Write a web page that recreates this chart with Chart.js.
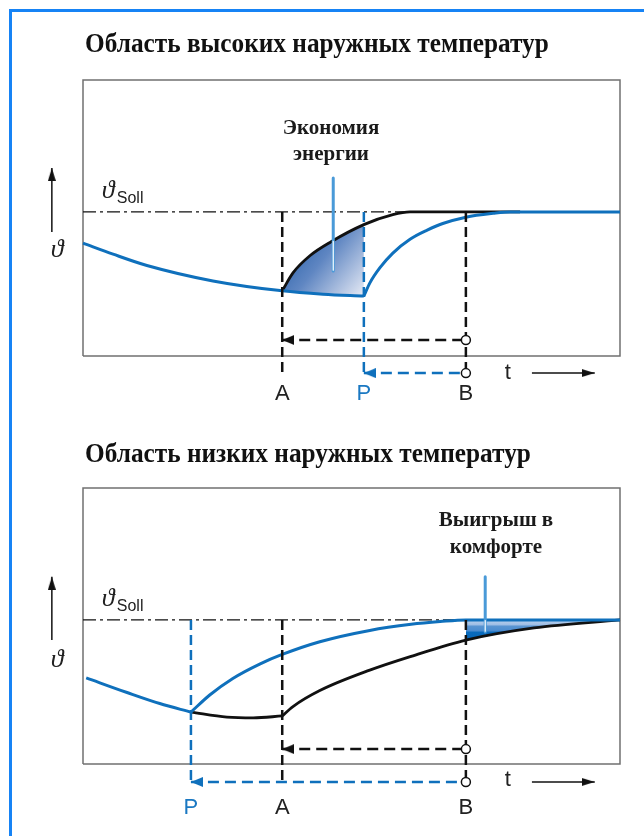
<!DOCTYPE html>
<html lang="ru">
<head>
<meta charset="UTF-8">
<title>Область высоких и низких наружных температур</title>
<script src="https://cdn.jsdelivr.net/npm/chart.js"></script>
<style>
  body { margin: 0; background: #fff; width: 644px; height: 836px; overflow: hidden; position: relative; font-family: "Liberation Serif", serif; }
  #frame { position: absolute; left: 9px; top: 9px; width: 700px; height: 900px; border-left: 3px solid #1683f5; border-top: 3px solid #1683f5; }
  .title { position: absolute; left: 85px; font-weight: bold; font-size: 27px; line-height: 27px; color: #111; white-space: nowrap;
           transform: scaleX(0.937); transform-origin: 0 0; }
  .note { position: absolute; width: 160px; text-align: center; font-weight: bold; font-size: 21px; line-height: 26px; color: #1a1a1a; }
  canvas { position: absolute; left: 0; }
  #hiChart { top: 0; }
  #loChart { top: 408px; }
</style>
</head>
<body>
  <div id="frame"></div>
  <canvas id="hiChart" width="644" height="408"></canvas>
  <canvas id="loChart" width="644" height="428"></canvas>

  <div class="title" style="top:30px">Область высоких наружных температур</div>
  <div class="note" style="left:251px; top:114px">Экономия<br>энергии</div>

  <div class="title" style="top:440px">Область низких наружных температур</div>
  <div class="note" style="left:416px; top:506px; line-height:27px">Выигрыш в<br>комфорте</div>

<script>
// --- data (x: 0..100 across the box, y: 0..100 up the box) ---
const SOLL = 52.2;

// high outside temperatures
const hiMarkNames = ['A', 'P', 'B'];
const hiMarkX = [37.1, 52.3, 71.3];
const hiBlueBeforeX = [0, 5.6, 11.9, 24.2, 37.1, 44.7, 52.3];
const hiBlueBeforeY = [40.9, 36.9, 32.8, 27.2, 23.6, 22.4, 21.7];
const hiBlueAfterX = [52.3, 53.4, 55.3, 57.7, 60.9, 64.1, 67.0, 71.3, 76.4, 79.5, 100];
const hiBlueAfterY = [21.7, 26.4, 32.0, 37.3, 42.3, 45.6, 48.0, 50.3, 51.7, 52.2, 52.2];
const hiBlackX = [37.1, 39.1, 42.3, 46.2, 52.3, 57.7, 60.9, 81.4];
const hiBlackY = [23.6, 30.1, 36.4, 41.4, 47.6, 51.2, 52.2, 52.2];
const hiArrowY = [5.8, -6.2];          // black arrow B->A, blue arrow B->P
const hiPointer = [46.6, 64.5, 30.8, 41.5];  // x, top, bottom, start of white core

// low outside temperatures
const loMarkNames = ['P', 'A', 'B'];
const loMarkX = [20.1, 37.1, 71.3];
const loBlueBeforeX = [0.6, 8.2, 14.3, 20.1];
const loBlueBeforeY = [31.2, 25.9, 21.9, 18.8];
const loBlueAfterX = [20.1, 23.6, 27.9, 33.0, 37.1, 44.1, 53.4, 61.1, 66.5, 71.3, 100];
const loBlueAfterY = [18.8, 25.0, 31.0, 36.3, 39.7, 44.3, 48.4, 50.6, 51.6, 52.2, 52.2];
const loBlackBeforeX = [20.1, 26.8, 31.7, 37.1];
const loBlackBeforeY = [18.8, 17.0, 16.7, 17.4];
const loBlackAfterX = [37.1, 39.1, 44.1, 53.4, 61.1, 71.3, 84.0, 100];
const loBlackAfterY = [17.4, 20.8, 26.6, 34.0, 39.0, 44.9, 49.3, 52.2];
const loArrowY = [5.4, -6.5];
const loPointer = [74.9, 67.8, 47.8, 52.0];

// --- layout ---
const W = 644;
const BOX = { left: 83, right: 620, top: 80, bottom: 356 };
const BLUE = '#0f70bc', BLACK = '#111', GREY = '#707070';

const pts = (xs, ys) => xs.map((x, i) => ({ x, y: ys[i] }));

function arrowHead(color, len, half) {
  // points left, tip in the centre of the image
  const c = document.createElement('canvas');
  c.width = len * 2; c.height = half * 2;
  const g = c.getContext('2d');
  g.fillStyle = color;
  g.beginPath(); g.moveTo(len, half); g.lineTo(len * 2, 0); g.lineTo(len * 2, half * 2); g.closePath(); g.fill();
  return c;
}
const headBlack = arrowHead(BLACK, 12, 5);
const headBlue = arrowHead(BLUE, 12, 5);
const headAxis = arrowHead(BLACK, 13, 4);

function curve(data, color, width, order) {
  return { data, borderColor: color, borderWidth: width, pointRadius: 0, cubicInterpolationMode: 'monotone',
           fill: false, order };
}
function vDash(x, y0, y1, color) {
  return { data: [{ x, y: y0 }, { x, y: y1 }], borderColor: color, borderWidth: 2.5,
           borderDash: [10, 5], pointRadius: 0, fill: false, order: 3 };
}
function hArrow(xTip, xEnd, y, color, head) {
  return { data: [{ x: xTip, y }, { x: xEnd, y }], borderColor: color, borderWidth: 2.5, borderDash: [11, 6],
           pointStyle: [head, 'circle'], pointRadius: [6, 4.5], pointBackgroundColor: [color, '#fff'],
           pointBorderColor: ['rgba(0,0,0,0)', BLACK], pointBorderWidth: [0, 1.5], fill: false, order: 2 };
}
function axisArrow(x0, y0, x1, y1, rot) {
  return { data: [{ x: x0, y: y0 }, { x: x1, y: y1 }], borderColor: BLACK, borderWidth: 1.5,
           pointStyle: ['circle', headAxis], pointRadius: [0, 6], pointRotation: [0, rot], fill: false, order: 2 };
}
function pointer(p) {
  return [
    { data: [{ x: p[0], y: p[1] }, { x: p[0], y: p[2] }], borderColor: '#4a9ad8', borderWidth: 3,
      borderCapStyle: 'round', pointRadius: 0, fill: false, order: 1 },
    { data: [{ x: p[0], y: p[3] }, { x: p[0], y: p[2] + 0.3 }], borderColor: '#fff', borderWidth: 1.2,
      borderCapStyle: 'round', pointRadius: 0, fill: false, order: 0 }
  ];
}
function frameAndSoll() {
  return [
    { data: pts([0, 100, 100, 0, 0], [0, 0, 100, 100, 0]), borderColor: GREY, borderWidth: 1.5,
      tension: 0, pointRadius: 0, fill: false, order: 10 },
    { data: pts([0, 100], [SOLL, SOLL]), borderColor: BLACK, borderWidth: 1.3, borderDash: [13, 4, 3, 4],
      pointRadius: 0, fill: false, order: 9 }
  ];
}

function makeChart(id, h, datasets, text) {
  const ux = (BOX.right - BOX.left) / 100, uy = (BOX.bottom - BOX.top) / 100;
  const labels = {
    id: 'labels',
    afterDatasetsDraw(chart) {
      const { ctx, scales: { x, y } } = chart;
      ctx.save();
      ctx.textAlign = 'center'; ctx.textBaseline = 'middle';
      ctx.font = '22px "Liberation Sans", Arial, sans-serif';
      text.names.forEach((n, i) => {
        ctx.fillStyle = n === 'P' ? '#1a78c2' : '#222';
        ctx.fillText(n, x.getPixelForValue(text.xs[i]), y.getPixelForValue(text.labelY));
      });
      ctx.fillStyle = '#222';
      ctx.fillText('t', x.getPixelForValue(79.1), y.getPixelForValue(text.tY));
      ctx.font = 'italic 26px "Liberation Serif", serif';
      ctx.fillText('ϑ', x.getPixelForValue(-4.8), y.getPixelForValue(text.thetaY));
      ctx.textAlign = 'left'; ctx.textBaseline = 'alphabetic';
      const sx = x.getPixelForValue(3.5), sy = y.getPixelForValue(SOLL + 5.0);
      ctx.fillText('ϑ', sx, sy);
      ctx.font = '16px "Liberation Sans", Arial, sans-serif';
      ctx.fillText('Soll', sx + 15, sy + 5);
      ctx.restore();
    }
  };
  return new Chart(document.getElementById(id), {
    type: 'line',
    data: { datasets },
    options: {
      responsive: false, animation: false, events: [],
      layout: { padding: 0, autoPadding: false },
      scales: {
        x: { type: 'linear', display: false, min: -BOX.left / ux, max: (W - BOX.left) / ux },
        y: { type: 'linear', display: false, min: -(h - BOX.bottom) / uy, max: 100 + BOX.top / uy }
      },
      plugins: { legend: { display: false }, tooltip: { enabled: false } }
    },
    plugins: [labels]
  });
}

// ---------- high temperatures ----------
const hiBlack = pts(hiBlackX, hiBlackY);
const hiSet = frameAndSoll();
const hiBlueBeforeIdx = hiSet.length;
hiSet.push(curve(pts(hiBlueBeforeX, hiBlueBeforeY), BLUE, 3, 6));
hiSet.push(curve(pts(hiBlueAfterX, hiBlueAfterY), BLUE, 3, 6));
hiSet.push(curve(hiBlack, BLACK, 2.8, 7));
hiSet.push({
  data: hiBlack.filter(p => p.x <= hiMarkX[1]), borderWidth: 0, pointRadius: 0, cubicInterpolationMode: 'monotone',
  order: 8, fill: { target: hiBlueBeforeIdx },
  backgroundColor(ctx) {
    const c = ctx.chart;
    if (!c.chartArea) return 'rgba(0,0,0,0)';
    const { x, y } = c.scales;
    const g = c.ctx.createLinearGradient(x.getPixelForValue(hiMarkX[0]), y.getPixelForValue(SOLL - 8),
                                         x.getPixelForValue(hiMarkX[1]), y.getPixelForValue(20));
    g.addColorStop(0, '#1b57a3'); g.addColorStop(0.45, '#5f86c2'); g.addColorStop(1, '#eef0f8');
    return g;
  }
});
hiSet.push(vDash(hiMarkX[0], SOLL, -7.5, BLACK));
hiSet.push(vDash(hiMarkX[1], SOLL, -7.5, BLUE));
hiSet.push(vDash(hiMarkX[2], SOLL, hiArrowY[1], BLACK));
hiSet.push(hArrow(hiMarkX[0], hiMarkX[2], hiArrowY[0], BLACK, headBlack));
hiSet.push(hArrow(hiMarkX[1], hiMarkX[2], hiArrowY[1], BLUE, headBlue));
hiSet.push(axisArrow(-5.8, 44.9, -5.8, 68.1, 90));
hiSet.push(axisArrow(83.6, hiArrowY[1], 95.3, hiArrowY[1], 180));
hiSet.push(...pointer(hiPointer));
makeChart('hiChart', 408, hiSet, { names: hiMarkNames, xs: hiMarkX, labelY: -13.8, tY: -6.2, thetaY: 38.4 });

// ---------- low temperatures ----------
const loBlackAfter = pts(loBlackAfterX, loBlackAfterY);
const loSet = frameAndSoll();
loSet.push(curve(pts(loBlueBeforeX, loBlueBeforeY), BLUE, 3, 5));
loSet.push(curve(pts(loBlueAfterX, loBlueAfterY), BLUE, 3, 5));
loSet.push(curve(pts(loBlackBeforeX, loBlackBeforeY), BLACK, 2.8, 6));
loSet.push(curve(loBlackAfter, BLACK, 2.8, 6));
loSet.push({
  data: loBlackAfter.filter(p => p.x >= loMarkX[2]), borderWidth: 0, pointRadius: 0, cubicInterpolationMode: 'monotone',
  order: 7, fill: { value: SOLL },
  backgroundColor(ctx) {
    const c = ctx.chart;
    if (!c.chartArea) return 'rgba(0,0,0,0)';
    const y = c.scales.y;
    const g = c.ctx.createLinearGradient(0, y.getPixelForValue(SOLL), 0, y.getPixelForValue(loBlackAfterY[5]));
    g.addColorStop(0, '#b9d0ec'); g.addColorStop(0.25, '#9dbde5'); g.addColorStop(0.3, '#5a95d2');
    g.addColorStop(0.55, '#4a8bcf'); g.addColorStop(0.6, '#0a6bbd'); g.addColorStop(1, '#0666b8');
    return g;
  }
});
loSet.push(vDash(loMarkX[0], SOLL, -7.6, BLUE));
loSet.push(vDash(loMarkX[1], SOLL, -7.6, BLACK));
loSet.push(vDash(loMarkX[2], SOLL, loArrowY[1], BLACK));
loSet.push(hArrow(loMarkX[1], loMarkX[2], loArrowY[0], BLACK, headBlack));
loSet.push(hArrow(loMarkX[0], loMarkX[2], loArrowY[1], BLUE, headBlue));
loSet.push(axisArrow(-5.8, 44.9, -5.8, 67.8, 90));
loSet.push(axisArrow(83.6, loArrowY[1], 95.3, loArrowY[1], 180));
loSet.push(...pointer(loPointer));
makeChart('loChart', 428, loSet, { names: loMarkNames, xs: loMarkX, labelY: -15.9, tY: -5.8, thetaY: 37.7 });
</script>
</body>
</html>
